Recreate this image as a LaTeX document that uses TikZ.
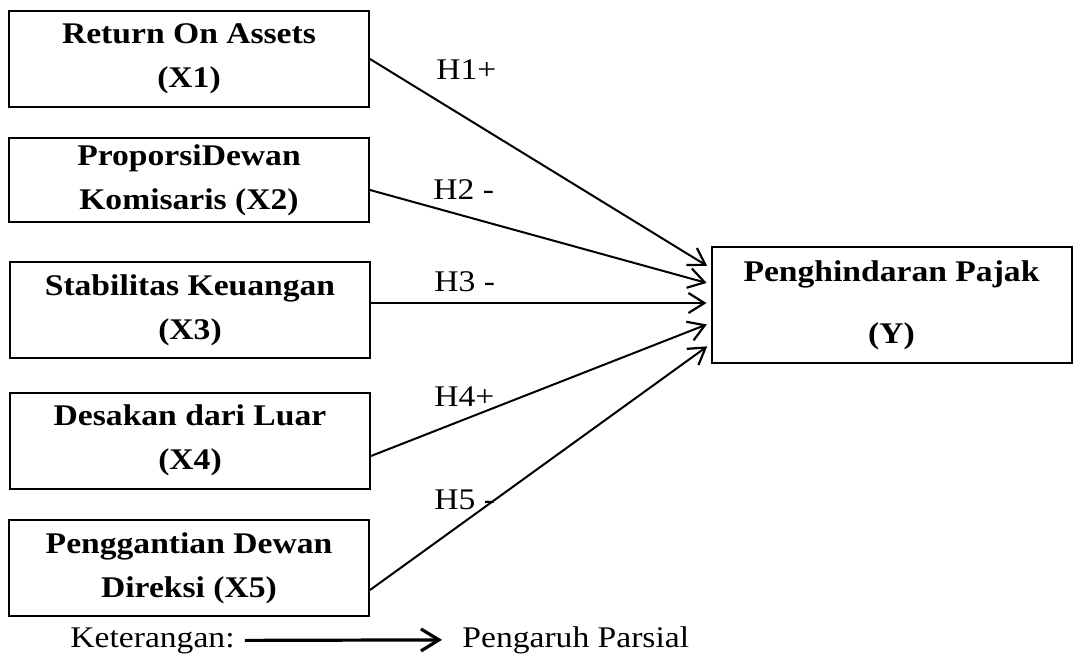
\documentclass[tikz,border=0pt]{standalone}
\usepackage{fontspec}
\setmainfont{Liberation Serif}[FakeStretch=1.12]
\usepackage{tikz}
\usetikzlibrary{arrows.meta,positioning}

\begin{document}
\begin{tikzpicture}[x=0.5pt, y=-0.5pt,
  var/.style={draw, line width=1pt, minimum width=180pt, minimum height=48pt,
              inner sep=0pt, align=center, font=\fontsize{15}{22}\selectfont\bfseries},
  hyp/.style={-{Straight Barb[length=8pt, width=10pt, line width=1.1pt]}, line width=1pt, shorten >=2pt},
  hlabel/.style={anchor=west, inner sep=0pt, font=\fontsize{15}{18}\selectfont},
  lgd/.style={-{Straight Barb[length=9pt, width=11pt, line width=1.6pt]}, line width=1.6pt},
]
\useasboundingbox (0,0) rectangle (1077,654);

\node[var] (x1) at (189,59) {Return On Assets\\(X1)};
\node[var, minimum height=42pt] (x2) at (189,180) {ProporsiDewan\\Komisaris (X2)};
\node[var] (x3) at (190,310) {Stabilitas Keuangan\\(X3)};
\node[var] (x4) at (190,440.5) {Desakan dari Luar\\(X4)};
\node[var] (x5) at (189,568) {Penggantian Dewan\\Direksi (X5)};
\node[var, minimum height=58pt, font=\fontsize{15}{31}\selectfont\bfseries] (y) at (891.5,305)
  {Penghindaran Pajak\\(Y)};

\draw[hyp] (x1.east) -- ([yshift=18.5pt]y.west);
\draw[hyp] ([yshift=-5pt]x2.east) -- ([yshift=10.5pt]y.west);
\draw[hyp] ([yshift=3.5pt]x3.east) -- ([yshift=1pt]y.west);
\draw[hyp] ([yshift=-7.75pt]x4.east) -- ([yshift=-9pt]y.west);
\draw[hyp] ([yshift=-11pt]x5.east) -- ([yshift=-19.5pt]y.west);

\node[hlabel] (h1) at (436,70) {H1+};
\node[hlabel] (h2) at (433,190) {H2 -};
\node[hlabel] (h3) at (434,282) {H3 -};
\node[hlabel] (h4) at (434,397) {H4+};
\node[hlabel] (h5) at (434,500) {H5 -};

\node[hlabel, anchor=base west] (ket) at (70,647) {Keterangan:};
\node[hlabel, anchor=base west] (ppar) at (462,647) {Pengaruh Parsial};
\draw[lgd, shorten <=5pt, shorten >=10pt] (ket.east) -- (ppar.west);
\end{tikzpicture}
\end{document}
